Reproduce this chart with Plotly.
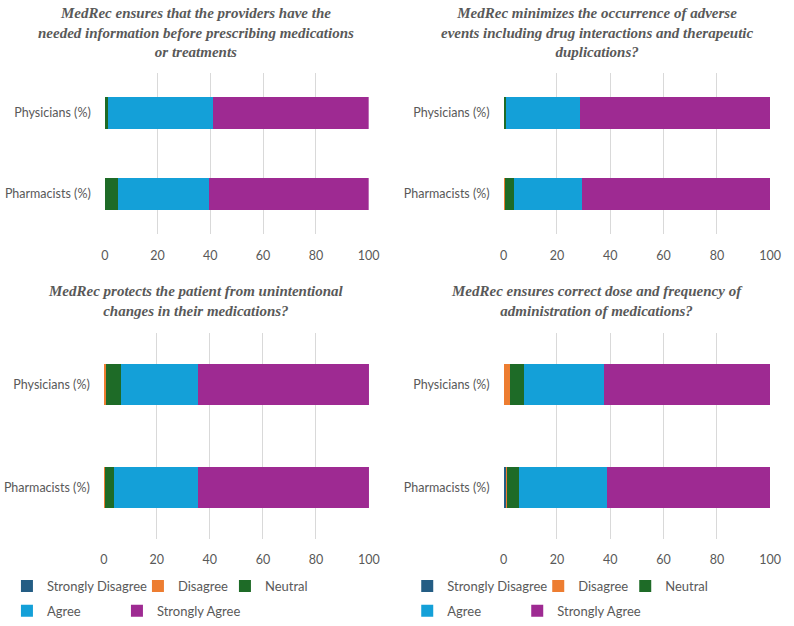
import plotly.graph_objects as go

# ---------------- data ----------------
categories = ["Pharmacists (%)", "Physicians (%)"]
levels = ["Strongly Disagree", "Disagree", "Neutral", "Agree", "Strongly Agree"]
level_colors = ["#245d84", "#ed7d31", "#1e6b27", "#14a0d8", "#9e2a92"]
x_ticks = [0, 20, 40, 60, 80, 100]

titles = [
    "MedRec ensures that the providers have the<br>needed information before prescribing medications<br>or treatments",
    "MedRec minimizes the occurrence of adverse<br>events including drug interactions and therapeutic<br>duplications?",
    "MedRec protects the patient from unintentional<br>changes in their medications?",
    "MedRec ensures correct dose and frequency of<br>administration of medications?",
]

# values in order [Pharmacists, Physicians]
q1_strongly_disagree = [0.0, 0.0]
q1_disagree = [0.0, 0.0]
q1_neutral = [4.9, 1.2]
q1_agree = [34.6, 39.9]
q1_strongly_agree = [60.5, 58.9]

q2_strongly_disagree = [0.0, 0.0]
q2_disagree = [0.5, 0.0]
q2_neutral = [3.2, 0.9]
q2_agree = [25.8, 27.9]
q2_strongly_agree = [70.5, 71.2]

q3_strongly_disagree = [0.0, 0.0]
q3_disagree = [0.5, 0.9]
q3_neutral = [3.5, 5.6]
q3_agree = [31.4, 29.0]
q3_strongly_agree = [64.6, 64.5]

q4_strongly_disagree = [0.8, 0.0]
q4_disagree = [0.6, 2.2]
q4_neutral = [4.4, 5.6]
q4_agree = [33.0, 29.8]
q4_strongly_agree = [61.2, 62.4]

panels = [
    [q1_strongly_disagree, q1_disagree, q1_neutral, q1_agree, q1_strongly_agree],
    [q2_strongly_disagree, q2_disagree, q2_neutral, q2_agree, q2_strongly_agree],
    [q3_strongly_disagree, q3_disagree, q3_neutral, q3_agree, q3_strongly_agree],
    [q4_strongly_disagree, q4_disagree, q4_neutral, q4_agree, q4_strongly_agree],
]

# ---------------- layout geometry (pixels) ----------------
W, H = 794, 626
x_domains_px = [(102.7, 371.7), (509.3, 781.0), (101.7, 372.0), (509.3, 781.0)]
y_domains_px = [(73.3, 236.7), (73.3, 236.7), (336.7, 544.0), (336.7, 544.0)]
title_x_px = [196, 604, 196, 604]
title_top_px = [3, 3, 284, 284]
legend_entry_px = [86, 42, 60, 65, 110]   # legend entry widths per level

GRAY = "#595959"
GRID = "#d9d9d9"
SANS = "Lato, Calibri, Carlito, sans-serif"
SERIF = "Liberation Serif, Times New Roman, serif"

fig = go.Figure()

# legend assignment: bottom panels carry the legends (row 1 / row 2)
legend_map = {
    2: ["legend", "legend", "legend", "legend2", "legend2"],
    3: ["legend3", "legend3", "legend3", "legend4", "legend4"],
}

for p, series in enumerate(panels):
    sfx = "" if p == 0 else str(p + 1)
    for k, vals in enumerate(series):
        show = p in legend_map
        fig.add_trace(go.Bar(
            x=vals, y=categories, orientation="h",
            name=levels[k],
            marker=dict(color=level_colors[k], line=dict(width=0)),
            xaxis="x" + sfx, yaxis="y" + sfx,
            showlegend=show,
            legend=legend_map[p][k] if show else "legend",
            legendwidth=legend_entry_px[k],
            hovertemplate="%{y}: %{x}<extra>" + levels[k] + "</extra>",
        ))

layout = dict(
    width=W, height=H,
    margin=dict(l=0, r=0, t=0, b=0),
    paper_bgcolor="white", plot_bgcolor="white",
    barmode="stack", bargap=0.6,
    font=dict(family=SANS, size=13, color=GRAY),
)

for p in range(4):
    sfx = "" if p == 0 else str(p + 1)
    x0, x1 = x_domains_px[p]
    y0, y1 = y_domains_px[p]
    layout["xaxis" + sfx] = dict(
        domain=[x0 / W, x1 / W], anchor="y" + sfx,
        range=[0, 100], tickvals=x_ticks, ticktext=[str(v) for v in x_ticks],
        showgrid=True, gridcolor=GRID, gridwidth=1,
        zeroline=False, showline=False, ticks="",
        ticklabelstandoff=12,
        tickfont=dict(family=SANS, size=12.5, color=GRAY),
        fixedrange=True,
    )
    layout["yaxis" + sfx] = dict(
        domain=[1 - y1 / H, 1 - y0 / H], anchor="x" + sfx,
        type="category", categoryorder="array", categoryarray=categories,
        range=[-0.5, 1.5],
        showgrid=False, zeroline=False, showline=False, ticks="",
        ticklabelstandoff=13,
        tickfont=dict(family=SANS, size=12.5, color=GRAY),
        fixedrange=True,
    )

annotations = []
for p in range(4):
    annotations.append(dict(
        text="<b><i>" + titles[p] + "</i></b>",
        xref="paper", yref="paper",
        x=title_x_px[p] / W, y=1 - title_top_px[p] / H,
        xanchor="center", yanchor="top", align="center",
        showarrow=False,
        font=dict(family=SERIF, size=15, color=GRAY),
    ))
layout["annotations"] = annotations

leg_common = dict(
    orientation="h", traceorder="normal",
    entrywidthmode="pixels",
    font=dict(family=SANS, size=13, color=GRAY),
    bgcolor="rgba(0,0,0,0)", borderwidth=0,
    xanchor="left", yanchor="middle",
    itemwidth=30,
)
layout["legend"] = dict(leg_common, x=3 / W, y=1 - 591.7 / H)
layout["legend2"] = dict(leg_common, x=3 / W, y=1 - 616.7 / H)
layout["legend3"] = dict(leg_common, x=411 / W, y=1 - 591.7 / H)
layout["legend4"] = dict(leg_common, x=411 / W, y=1 - 616.7 / H)

fig.update_layout(**layout)
fig.write_html("out.html")
